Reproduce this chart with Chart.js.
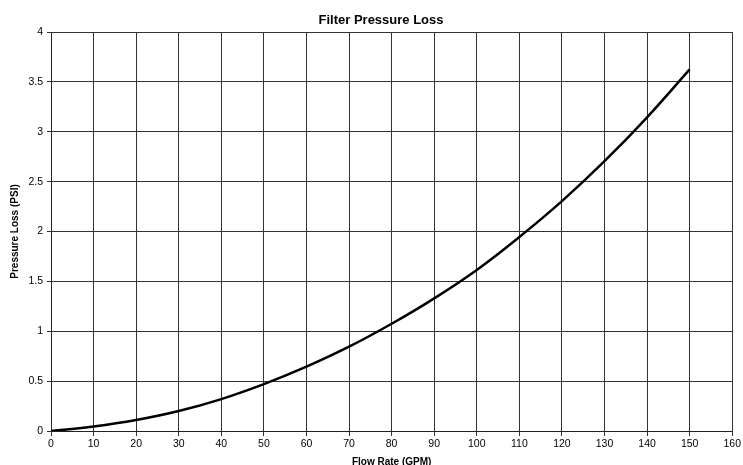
<!DOCTYPE html>
<html>
<head>
<meta charset="utf-8">
<script src="https://cdn.jsdelivr.net/npm/chart.js@4/dist/chart.umd.min.js"></script>
<style>
html,body{margin:0;padding:0;background:#fff;overflow:hidden;}
#wrap{width:743px;height:465px;position:relative;}
</style>
</head>
<body>
<div id="wrap"><canvas id="c" width="743" height="465"></canvas></div>
<script>
const chartTitle = "Filter Pressure Loss";
const xTitle = "Flow Rate (GPM)";
const yTitle = "Pressure Loss (PSI)";
const flowRate = [0, 10, 20, 30, 40, 50, 60, 70, 80, 90, 100, 110, 120, 130, 140, 150];
const pressureLoss = [0, 0.045, 0.11, 0.2, 0.32, 0.47, 0.645, 0.845, 1.075, 1.33, 1.615, 1.945, 2.305, 2.705, 3.145, 3.625];
const xTicks = [0, 10, 20, 30, 40, 50, 60, 70, 80, 90, 100, 110, 120, 130, 140, 150, 160];
const yTicks = [0, 0.5, 1, 1.5, 2, 2.5, 3, 3.5, 4];

const FONT = "'Liberation Sans', Arial, Helvetica, sans-serif";

const titlePlugin = {
  id: 'customTitle',
  afterDraw(chart) {
    const ctx = chart.ctx;
    ctx.save();
    ctx.font = "bold 13px " + FONT;
    ctx.fillStyle = '#000';
    ctx.textAlign = 'center';
    ctx.textBaseline = 'middle';
    ctx.fillText(chartTitle, 381, 20.5);
    ctx.restore();
  }
};

new Chart(document.getElementById('c'), {
  type: 'line',
  data: {
    datasets: [{
      data: flowRate.map((x, i) => ({x: x, y: pressureLoss[i]})),
      borderColor: '#000',
      borderWidth: 2.5,
      pointRadius: 0,
      fill: false,
      tension: 0.4
    }]
  },
  options: {
    responsive: false,
    animation: false,
    events: [],
    layout: { padding: { top: 32, right: 9, bottom: 0, left: 0 } },
    plugins: { legend: { display: false }, title: { display: false }, tooltip: { enabled: false } },
    scales: {
      x: {
        type: 'linear', min: 0, max: 160,
        afterBuildTicks: s => { s.ticks = xTicks.map(v => ({value: v})); },
        afterFit: s => { s.height = 34; },
        grid: { color: '#333', lineWidth: 1, tickLength: 5, drawTicks: true },
        border: { color: '#222', width: 1 },
        ticks: { color: '#000', font: { family: FONT, size: 10.5 }, padding: 2, maxRotation: 0, autoSkip: false, callback: v => String(v) },
        title: { display: true, text: xTitle, color: '#000', font: { family: FONT, size: 10, weight: 'bold' }, padding: { top: 0, bottom: -3 } }
      },
      y: {
        type: 'linear', min: 0, max: 4,
        afterBuildTicks: s => { s.ticks = yTicks.map(v => ({value: v})); },
        afterFit: s => { s.width = 51; },
        grid: { color: '#333', lineWidth: 1, tickLength: 4, drawTicks: true },
        border: { color: '#222', width: 1 },
        ticks: { color: '#000', font: { family: FONT, size: 10.5 }, padding: 4, autoSkip: false, callback: v => String(v) },
        title: { display: true, text: yTitle, color: '#000', font: { family: FONT, size: 10, weight: 'bold' }, padding: { top: 9, bottom: 0 } }
      }
    }
  },
  plugins: [titlePlugin]
});
</script>
</body>
</html>
